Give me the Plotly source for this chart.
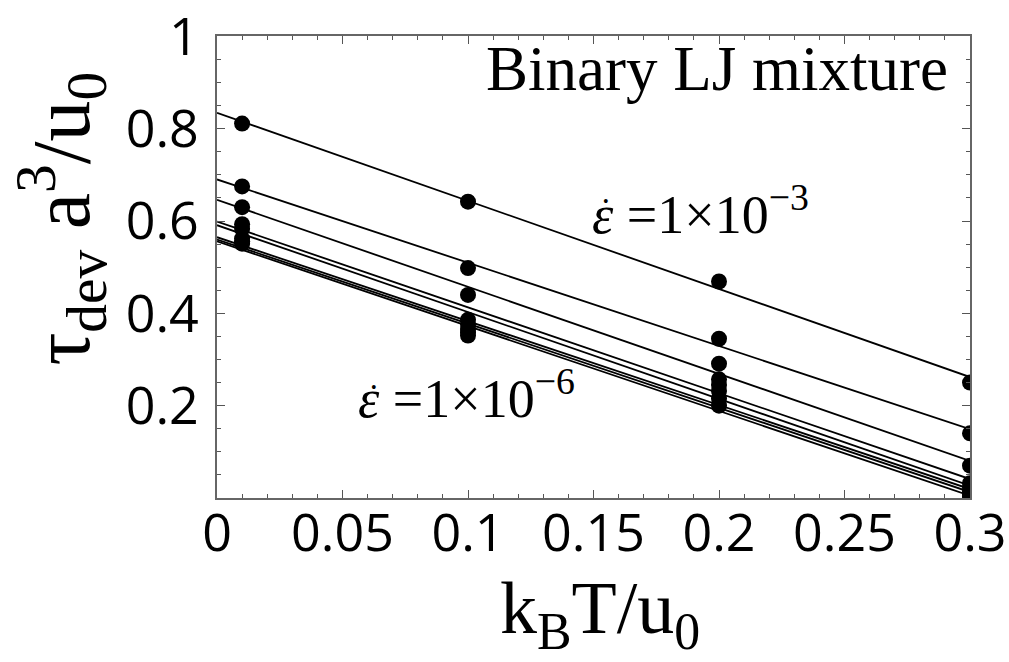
import plotly.graph_objects as go

# temperatures k_B T / u0 at which stresses were measured
temps = [0.01, 0.1, 0.2, 0.3]

# deviatoric stress tau_dev a^3/u0 for each strain-rate series (top to bottom)
tau_s1 = [0.811, 0.642, 0.469, 0.250]
tau_s2 = [0.675, 0.498, 0.345, 0.140]
tau_s3 = [0.630, 0.440, 0.291, 0.070]
tau_s4 = [0.593, 0.386, 0.257, 0.032]
tau_s5 = [0.583, 0.376, 0.245, 0.022]
tau_s6 = [0.562, 0.366, 0.232, 0.014]
tau_s7 = [0.556, 0.358, 0.215, 0.008]
tau_s8 = [0.551, 0.352, 0.200, 0.003]
series = [tau_s1, tau_s2, tau_s3, tau_s4, tau_s5, tau_s6, tau_s7, tau_s8]

# linear fit lines: value at k_B T/u0 = 0 and at 0.3
fit_x = [0.0, 0.3]
fit_start = [0.8345, 0.690, 0.646, 0.599, 0.591, 0.565, 0.560, 0.556]
fit_end = [0.262, 0.149, 0.0805, 0.041, 0.0265, 0.0194, 0.0129, 0.005]

x_ticks = [0, 0.05, 0.1, 0.15, 0.2, 0.25, 0.3]
x_ticktext = ["0", "0.05", "0.1", "0.15", "0.2", "0.25", "0.3"]
y_ticks = [0.2, 0.4, 0.6, 0.8, 1.0]
y_ticktext = ["0.2", "0.4", "0.6", "0.8", "1"]

fig = go.Figure()
for a, b in zip(fit_start, fit_end):
    fig.add_trace(go.Scatter(x=fit_x, y=[a, b], mode="lines",
                             line=dict(color="black", width=1.8),
                             showlegend=False, hoverinfo="skip"))
for s in series:
    fig.add_trace(go.Scatter(x=temps, y=s, mode="markers",
                             marker=dict(color="black", size=16),
                             showlegend=False, cliponaxis=True))

tick_font = dict(family="Open Sans, Noto Sans, sans-serif", size=52, color="black")
serif = "Liberation Serif, Times New Roman, serif"

axis_common = dict(
    showgrid=False, zeroline=False, showline=True, linecolor="#666666", linewidth=1.5,
    mirror="allticks", ticks="inside", ticklen=8, tickwidth=1, tickcolor="#555555",
    tickfont=tick_font, automargin=False,
)

fig.update_xaxes(range=[0, 0.3], tickmode="array", tickvals=x_ticks, ticktext=x_ticktext,
                 minor=dict(dtick=0.01, tick0=0, ticks="inside", ticklen=4, tickcolor="#555555"),
                 ticklabelstandoff=-11, **axis_common)
fig.update_yaxes(range=[0, 1.0008], tickmode="array", tickvals=y_ticks, ticktext=y_ticktext,
                 minor=dict(dtick=0.05, tick0=0, ticks="inside", ticklen=4, tickcolor="#555555"),
                 ticklabelstandoff=6, ticklabeloverflow="allow", **axis_common)

annotations = [
    dict(text="k<sub>B</sub>T/u<sub>0</sub>", x=0.508, y=-0.25, xref="paper", yref="paper",
         showarrow=False, font=dict(family=serif, size=74, color="black"),
         xanchor="center", yanchor="middle"),
    dict(text="τ<sub>dev</sub> a<sup>3</sup>/u<sub>0</sub>", x=-0.207, y=0.605, xref="paper", yref="paper",
         showarrow=False, textangle=-90, font=dict(family=serif, size=82, color="black"),
         xanchor="center", yanchor="middle"),
    dict(text="Binary LJ mixture", x=0.974, y=0.928, xref="paper", yref="paper",
         showarrow=False, font=dict(family=serif, size=63, color="black"),
         xanchor="right", yanchor="middle"),
    dict(text="<i>ε</i> =1×10<sup>−3</sup>", x=0.642, y=0.623, xref="paper", yref="paper",
         showarrow=False, font=dict(family=serif, size=54, color="black"),
         xanchor="center", yanchor="middle"),
    dict(text="<i>ε</i> =1×10<sup>−6</sup>", x=0.332, y=0.225, xref="paper", yref="paper",
         showarrow=False, font=dict(family=serif, size=54, color="black"),
         xanchor="center", yanchor="middle"),
    # dots over epsilon (time derivative)
    dict(text="•", x=0.516, y=0.641, xref="paper", yref="paper",
         showarrow=False, font=dict(family=serif, size=16, color="black"),
         xanchor="center", yanchor="middle"),
    dict(text="•", x=0.2085, y=0.240, xref="paper", yref="paper",
         showarrow=False, font=dict(family=serif, size=16, color="black"),
         xanchor="center", yanchor="middle"),
]

fig.update_layout(
    width=1009, height=662,
    margin=dict(l=217, r=39, t=36, b=164),
    paper_bgcolor="white", plot_bgcolor="white",
    annotations=annotations,
    showlegend=False,
)

fig.write_html("out.html")
